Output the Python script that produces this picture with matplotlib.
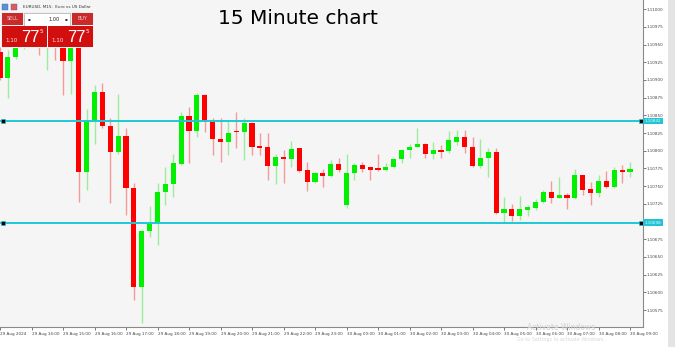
import matplotlib
matplotlib.use('Agg')
import matplotlib.pyplot as plt
from matplotlib.patches import Rectangle
from matplotlib.transforms import blended_transform_factory
import numpy as np

# EURUSD M15, 29 Aug 13:00 -> 30 Aug 09:00
opens = [1.10939, 1.10903, 1.10932, 1.10956, 1.10973, 1.10982, 1.10963, 1.10978, 1.10959, 1.10927,
         1.10956, 1.10770, 1.10842, 1.10883, 1.10835, 1.10798, 1.10821, 1.10747, 1.10608, 1.10687,
         1.10698, 1.10742, 1.10753, 1.10781, 1.10849, 1.10828, 1.10879, 1.10841, 1.10817, 1.10812,
         1.10828, 1.10826, 1.10839, 1.10807, 1.10805, 1.10778, 1.10791, 1.10788, 1.10804, 1.10773,
         1.10756, 1.10769, 1.10764, 1.10781, 1.10723, 1.10769, 1.10780, 1.10777, 1.10775, 1.10773,
         1.10777, 1.10788, 1.10801, 1.10805, 1.10810, 1.10795, 1.10801, 1.10800, 1.10812, 1.10819,
         1.10805, 1.10778, 1.10790, 1.10798, 1.10712, 1.10718, 1.10708, 1.10716, 1.10719, 1.10728,
         1.10742, 1.10733, 1.10737, 1.10733, 1.10766, 1.10746, 1.10740, 1.10757, 1.10749, 1.10773,
         1.10770]
highs = [1.10947, 1.10942, 1.10951, 1.10985, 1.10992, 1.10987, 1.10985, 1.10982, 1.10968, 1.10963,
         1.10962, 1.10859, 1.10893, 1.10896, 1.10846, 1.10880, 1.10832, 1.10754, 1.10688, 1.10722,
         1.10754, 1.10777, 1.10795, 1.10855, 1.10862, 1.10882, 1.10880, 1.10846, 1.10846, 1.10843,
         1.10855, 1.10846, 1.10841, 1.10825, 1.10825, 1.10795, 1.10801, 1.10814, 1.10804, 1.10784,
         1.10770, 1.10774, 1.10787, 1.10790, 1.10795, 1.10783, 1.10784, 1.10777, 1.10795, 1.10783,
         1.10790, 1.10802, 1.10810, 1.10832, 1.10811, 1.10812, 1.10808, 1.10828, 1.10829, 1.10829,
         1.10819, 1.10817, 1.10804, 1.10804, 1.10735, 1.10725, 1.10736, 1.10723, 1.10732, 1.10745,
         1.10757, 1.10763, 1.10740, 1.10774, 1.10766, 1.10756, 1.10766, 1.10771, 1.10777, 1.10780,
         1.10784]
lows = [1.10900, 1.10874, 1.10930, 1.10944, 1.10963, 1.10935, 1.10914, 1.10928, 1.10879, 1.10880,
        1.10728, 1.10745, 1.10810, 1.10832, 1.10726, 1.10795, 1.10709, 1.10589, 1.10557, 1.10678,
        1.10667, 1.10723, 1.10735, 1.10780, 1.10783, 1.10819, 1.10826, 1.10794, 1.10784, 1.10794,
        1.10804, 1.10787, 1.10794, 1.10794, 1.10759, 1.10753, 1.10754, 1.10777, 1.10770, 1.10743,
        1.10754, 1.10749, 1.10763, 1.10770, 1.10719, 1.10759, 1.10770, 1.10759, 1.10771, 1.10771,
        1.10776, 1.10783, 1.10790, 1.10805, 1.10790, 1.10788, 1.10790, 1.10797, 1.10808, 1.10797,
        1.10777, 1.10776, 1.10763, 1.10711, 1.10698, 1.10701, 1.10702, 1.10708, 1.10716, 1.10726,
        1.10726, 1.10733, 1.10718, 1.10732, 1.10737, 1.10723, 1.10735, 1.10747, 1.10747, 1.10754,
        1.10763]
closes = [1.10903, 1.10932, 1.10947, 1.10973, 1.10982, 1.10963, 1.10978, 1.10959, 1.10927, 1.10956,
          1.10770, 1.10842, 1.10883, 1.10835, 1.10798, 1.10821, 1.10747, 1.10608, 1.10687, 1.10696,
          1.10742, 1.10753, 1.10783, 1.10849, 1.10828, 1.10879, 1.10841, 1.10817, 1.10812, 1.10825,
          1.10826, 1.10839, 1.10805, 1.10804, 1.10778, 1.10791, 1.10788, 1.10802, 1.10771, 1.10756,
          1.10769, 1.10764, 1.10781, 1.10773, 1.10769, 1.10780, 1.10774, 1.10773, 1.10773, 1.10777,
          1.10788, 1.10801, 1.10805, 1.10810, 1.10795, 1.10801, 1.10798, 1.10815, 1.10819, 1.10805,
          1.10778, 1.10790, 1.10798, 1.10712, 1.10718, 1.10708, 1.10718, 1.10720, 1.10728, 1.10742,
          1.10733, 1.10737, 1.10733, 1.10766, 1.10745, 1.10740, 1.10757, 1.10749, 1.10773, 1.10770,
          1.10774]

time_labels = ["29 Aug 2024", "29 Aug 14:00", "29 Aug 15:00", "29 Aug 16:00", "29 Aug 17:00",
               "29 Aug 18:00", "29 Aug 19:00", "29 Aug 20:00", "29 Aug 21:00", "29 Aug 22:00",
               "29 Aug 23:00", "30 Aug 00:00", "30 Aug 01:00", "30 Aug 02:00", "30 Aug 03:00",
               "30 Aug 04:00", "30 Aug 05:00", "30 Aug 06:00", "30 Aug 07:00", "30 Aug 08:00",
               "30 Aug 09:00"]
# 1.10700 is hidden behind the 1.10698 level label in the terminal
price_ticks = [1.10575, 1.10600, 1.10625, 1.10650, 1.10675, 1.10725, 1.10750, 1.10775,
               1.10800, 1.10825, 1.10850, 1.10875, 1.10900, 1.10925, 1.10950, 1.10975, 1.11000]
levels = [1.10842, 1.10698]

W, H = 675, 347
fig = plt.figure(figsize=(W / 100, H / 100), dpi=100, facecolor='white')


def fx(px):
    return px / W


def fy(py):
    return 1 - py / H


ax = fig.add_axes([0, fy(327), fx(643), fy(0) - fy(327)])
ax.set_facecolor('#f5f5f5')

o = np.array(opens)
h = np.array(highs)
l = np.array(lows)
c = np.array(closes)
x = np.arange(len(o))
up = c >= o
body_col = np.where(up, '#00f000', '#ff0000')
wick_col = np.where(up, '#9cec9c', '#f49a9a')

ax.vlines(x, l, h, colors=wick_col, linewidth=1.0, zorder=2)
bottom = np.minimum(o, c)
height = np.maximum(np.abs(c - o), 0.000018)
ax.bar(x, height, 0.66, bottom=bottom, color=body_col, linewidth=0, zorder=3)

# horizontal levels
tr = blended_transform_factory(ax.transAxes, ax.transData)
for lv in levels:
    ax.axhline(lv, color='#1ec8d6', linewidth=1.4, zorder=4)
    ax.plot([0.004], [lv], marker='s', markersize=2.6, color='black', mec='#1ec8d6', mew=0.4,
            transform=tr, clip_on=False, zorder=5)
    ax.plot([0.997], [lv], marker='s', markersize=2.6, color='black', mec='#1ec8d6', mew=0.4,
            transform=tr, clip_on=False, zorder=5)
    ax.text(1.003, lv, f'{lv:.5f}', transform=tr,
            fontsize=3, color='#e8fbfd', va='center', ha='left',
            bbox=dict(boxstyle='square,pad=0.35', fc='#22c4d4', ec='none'), zorder=6)

ax.set_xlim(0, 81.65)
ax.set_ylim(1.10551, 1.11013)

ax.yaxis.tick_right()
ax.set_yticks(price_ticks)
ax.set_yticklabels([f'{v:.5f}' for v in price_ticks])
ax.tick_params(axis='y', labelsize=3, length=2, width=0.5, pad=0.8, colors='#444444')
ax.set_xticks(np.arange(0, 81, 4))
ax.set_xticklabels(time_labels, ha='left')
ax.tick_params(axis='x', labelsize=3, length=2.5, width=0.5, pad=1.2, colors='#444444')

for s in ['left', 'top']:
    ax.spines[s].set_visible(False)
for s in ['right', 'bottom']:
    ax.spines[s].set_color('#8a8a8a')
    ax.spines[s].set_linewidth(0.8)

# grey strip on far right
fig.add_artist(Rectangle((fx(668), 0), fx(7), 1, transform=fig.transFigure, fc='#e4e4e4', ec='none'))

# title
fig.text(fx(298), fy(19), '15 Minute chart', fontsize=14.5, color='black', ha='center', va='center')

# toolbar line
fig.add_artist(Rectangle((fx(2), fy(10)), fx(6), fy(4) - fy(10), transform=fig.transFigure,
                         fc='#5b8fd6', ec='#3a6ab0', lw=0.3, zorder=10))
fig.add_artist(Rectangle((fx(11), fy(10)), fx(6), fy(4) - fy(10), transform=fig.transFigure,
                         fc='#e25a5a', ec='#3a6ab0', lw=0.3, zorder=10))
fig.text(fx(23), fy(7.5), 'EURUSD, M15:  Euro vs US Dollar', fontsize=3, color='#333333',
         va='center', ha='left', zorder=10)


# one-click trading panel
def box(x0, y0, x1, y1, fc, ec='none', lw=0):
    fig.add_artist(Rectangle((fx(x0), fy(y1)), fx(x1 - x0), fy(y0) - fy(y1), transform=fig.transFigure,
                             fc=fc, ec=ec, lw=lw, zorder=10))


box(1, 12, 94, 48, '#f0f0f0')
box(2, 13, 23, 25, '#c92a2a')
box(72, 13, 93, 25, '#c92a2a')
box(24, 13, 70, 26, '#ffffff', ec='#9a9a9a', lw=0.4)
box(2, 26, 47, 47, '#d10f0f')
box(48, 26, 93, 47, '#d10f0f')
box(47, 26, 48, 47, '#f0f0f0')
fig.text(fx(12.5), fy(19), 'SELL', fontsize=3.5, color='#f6d0d0', ha='center', va='center', zorder=11)
fig.text(fx(82.5), fy(19), 'BUY', fontsize=3.5, color='#f6d0d0', ha='center', va='center', zorder=11)
fig.text(fx(54), fy(19.5), '1.00', fontsize=3.6, color='#222222', ha='center', va='center', zorder=11)
fig.text(fx(29), fy(19.5), '\u25aa', fontsize=3, color='#333333', ha='center', va='center', zorder=11)
fig.text(fx(66), fy(19.5), '\u25aa', fontsize=3, color='#333333', ha='center', va='center', zorder=11)
for x0 in [2, 48]:
    fig.text(fx(x0 + 3), fy(40), '1.10', fontsize=4, color='#ffe0e0', ha='left', va='center', zorder=11)
    fig.text(fx(x0 + 19), fy(37), '77', fontsize=12, color='white', ha='left', va='center',
             family='Liberation Sans', zorder=11)
    fig.text(fx(x0 + 38), fy(31.5), '5', fontsize=4, color='white', ha='left', va='center', zorder=11)

# watermark
fig.text(fx(527), fy(328), 'Activate Windows', fontsize=5.5, color='#d2d2d2', ha='left', va='center')
fig.text(fx(517), fy(340), 'Go to Settings to activate Windows.', fontsize=3.5, color='#d8d8d8',
         ha='left', va='center')

fig.savefig('out.png', dpi=100, facecolor=fig.get_facecolor())
